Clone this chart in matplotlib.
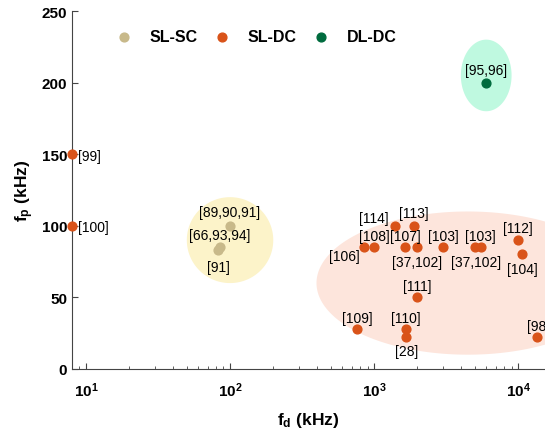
import numpy as np
import matplotlib
matplotlib.use("Agg")
import matplotlib.pyplot as plt

plt.rcParams['font.family'] = ['Liberation Sans', 'DejaVu Sans']
plt.rcParams['mathtext.fontset'] = 'custom'
plt.rcParams['mathtext.rm'] = 'Liberation Sans:bold'
plt.rcParams['mathtext.it'] = 'Liberation Sans:bold'
plt.rcParams['mathtext.bf'] = 'Liberation Sans:bold'

# SL-SC (single layer, single channel)
sc_fd = [100, 85, 83]
sc_fp = [100, 85, 83]
# SL-DC
dc_fd = [8, 8, 850, 1000, 1400, 1650, 1900, 2000, 3000, 5000, 5500, 10000, 10700, 2000, 760, 1670, 1670, 13500]
dc_fp = [150, 100, 85, 85, 100, 85, 100, 85, 85, 85, 85, 90, 80, 50, 28, 28, 22, 22]
# DL-DC
dl_fd = [6000]
dl_fp = [200]

# reference labels: (text, x, y, ha)
labels = [
    ("[99]", 8.8, 149, 'left'),
    ("[100]", 8.8, 99, 'left'),
    ("[89,90,91]", 100, 109.5, 'center'),
    ("[66,93,94]", 85, 93.5, 'center'),
    ("[91]", 83, 71, 'center'),
    ("[114]", 1000, 105.5, 'center'),
    ("[113]", 1900, 109, 'center'),
    ("[108]", 1000, 93, 'center'),
    ("[107]", 1645, 93, 'center'),
    ("[106]", 800, 79, 'right'),
    ("[37,102]", 2000, 75, 'center'),
    ("[103]", 3025, 93, 'center'),
    ("[103]", 5480, 93, 'center'),
    ("[37,102]", 5060, 75, 'center'),
    ("[112]", 10000, 98.5, 'center'),
    ("[104]", 10740, 70, 'center'),
    ("[111]", 2000, 58, 'center'),
    ("[109]", 761, 35.6, 'center'),
    ("[110]", 1670, 35.6, 'center'),
    ("[28]", 1670, 12.6, 'center'),
    ("[98]", 11500, 30, 'left'),
    ("[95,96]", 6000, 209, 'center'),
]

# highlight regions: (log10 center x, half width in decades, center y, half height, colour)
regions = [
    (2.0, 0.30, 90, 30, '#fcf3c9'),
    (3.65, 1.05, 60, 50, '#fde5dc'),
    (3.778, 0.176, 205, 25, '#bff9e0'),
]

fig = plt.figure(figsize=(5.45, 4.31), dpi=100)
ax = fig.add_axes([72 / 545, 61 / 431, (545 - 72) / 545, 358 / 431])
ax.set_xscale('log')
ax.set_xlim(8, 10 ** 4.186)
ax.set_ylim(0, 250)

t = np.linspace(0, 2 * np.pi, 200)
for lx, wx, cy, hy, col in regions:
    ax.fill(10 ** (lx + wx * np.cos(t)), cy + hy * np.sin(t), color=col, lw=0, zorder=0)

ax.scatter(sc_fd, sc_fp, s=40, color='#c8b98a', label='SL-SC', zorder=3, clip_on=False)
ax.scatter(dc_fd, dc_fp, s=40, color='#d95319', label='SL-DC', zorder=3, clip_on=False)
ax.scatter(dl_fd, dl_fp, s=40, color='#006b3e', label='DL-DC', zorder=3, clip_on=False)

for txt, x, y, ha in labels:
    ax.text(x, y, txt, ha=ha, va='center', fontsize=10, zorder=4)

ax.spines['top'].set_visible(False)
ax.spines['right'].set_visible(False)
for s in ['left', 'bottom']:
    ax.spines[s].set_color('#444444')
    ax.spines[s].set_linewidth(0.8)
ax.tick_params(which='both', direction='in', colors='#444444', labelcolor='black',
               labelsize=11)
ax.tick_params(which='major', length=4)
ax.tick_params(which='minor', length=2)
ax.tick_params(axis='x', which='major', pad=8)
ax.set_yticks([0, 50, 100, 150, 200, 250])
for lab in ax.get_xticklabels() + ax.get_yticklabels():
    lab.set_fontweight('bold')

ax.set_xlabel(r'f$_\mathregular{d}$ (kHz)', fontsize=12.5, fontweight='bold', labelpad=8)
ax.set_ylabel(r'f$_\mathregular{p}$ (kHz)', fontsize=12.5, fontweight='bold')

leg = ax.legend(loc='upper left', ncol=3, frameon=False, bbox_to_anchor=(0.045, 0.99),
                prop={'weight': 'bold', 'size': 11.5}, handletextpad=0.6, columnspacing=0.55,
                markerscale=1.0)

fig.savefig('out.png', dpi=100)
